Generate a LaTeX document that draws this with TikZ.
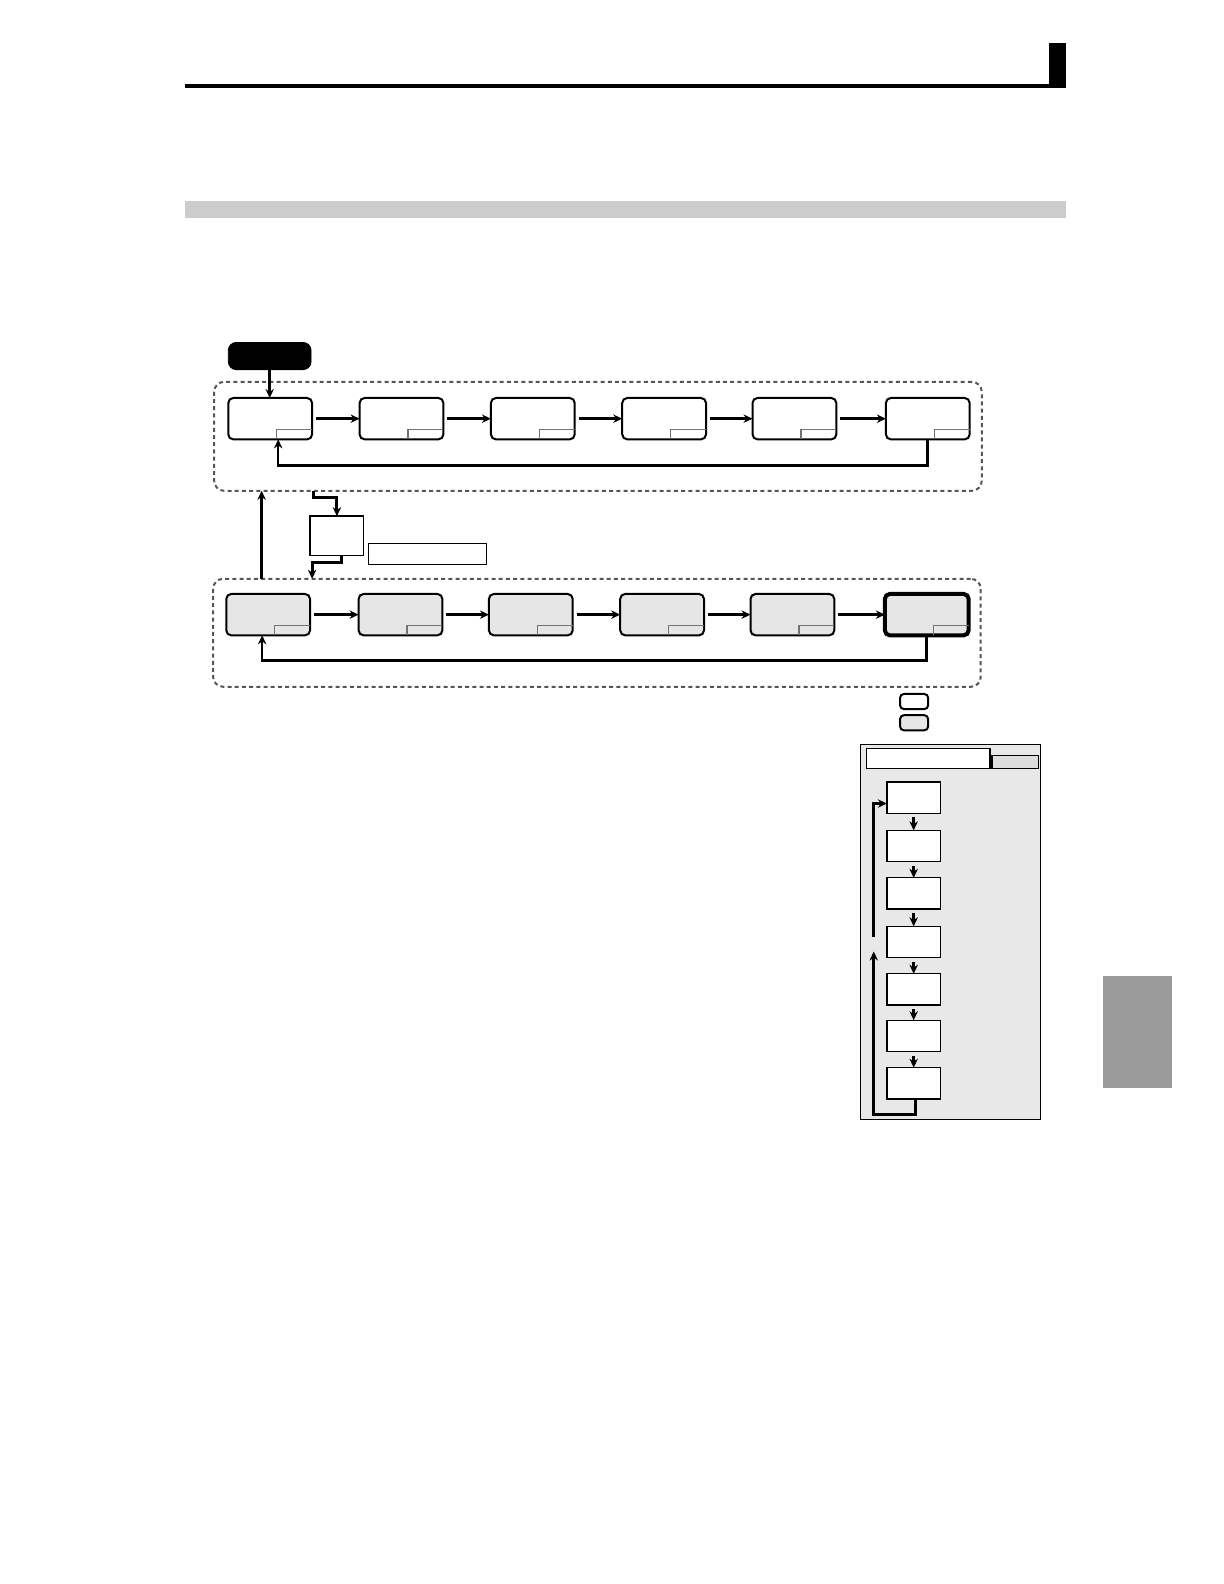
\documentclass[tikz,border=0pt]{standalone}
\usetikzlibrary{arrows.meta}
\definecolor{boxgray}{HTML}{E6E6E6}
\definecolor{dashgray}{HTML}{555555}
\definecolor{bargray}{HTML}{CCCCCC}
\definecolor{tabgray}{HTML}{9B9B9B}
\definecolor{panelgray}{HTML}{E8E8E8}
\definecolor{smallgray}{HTML}{DDDDDD}
\definecolor{linkblue}{HTML}{1A1A99}
\begin{document}
\begin{tikzpicture}[x=0.50505pt,y=-0.50505pt,
  arr/.style={line width=1.3pt,-{Stealth[length=4.5pt,width=4.2pt]}},
  tbox/.style={draw,line width=1pt,rounded corners=2.5pt,fill=white,minimum width=41.9pt,minimum height=20.7pt,inner sep=0pt,outer sep=0pt,anchor=north west},
  gbox/.style={tbox,fill=boxgray},
  dashbox/.style={draw=dashgray,dash pattern=on 2pt off 1.6pt,line width=1pt,rounded corners=5pt,minimum width=383.8pt,inner sep=0pt,outer sep=0pt,anchor=north west},
  cbox/.style={draw,line width=0.7pt,fill=white,minimum width=26.8pt,minimum height=15.7pt,inner sep=0pt,outer sep=0pt,anchor=north west},
  plain/.style={draw,line width=0.7pt,inner sep=0pt,outer sep=0pt,anchor=north west},
  cornermark/.style={line width=0.6pt,draw=black!55}
]
\useasboundingbox (0pt,0pt) rectangle (612pt,-792pt);
% header
\fill (183,83) rectangle (1055,87);
\fill (1038,43) rectangle (1055,87);
\fill[bargray] (183,199) rectangle (1055,216);
\fill[tabgray] (1092,966) rectangle (1160,1077);
\draw[linkblue,line width=0.6pt] (127,1575) -- (267,1575);

% dashed groups
\node[dashbox,minimum height=54.5pt] (dt) at (212,378) {};
\node[dashbox,minimum height=54pt] (db) at (211,573) {};

% start
\node[draw,fill=black,rounded corners=4pt,minimum width=41.4pt,minimum height=13.6pt,inner sep=0pt,outer sep=0pt,anchor=north west] (st) at (226,339) {};

% top row
\foreach \i/\x in {1/226,2/356,3/486,4/616,5/745,6/877}{
  \node[tbox] (t\i) at (\x,394) {};
  \draw[cornermark] ([xshift=-17.7pt]t\i.south east) |- ([yshift=5pt]t\i.south east);
}
% bottom row
\foreach \i/\x in {1/224,2/355,3/484,4/614,5/743}{
  \node[gbox] (b\i) at (\x,588) {};
  \draw[cornermark] ([xshift=-17.7pt]b\i.south east) |- ([yshift=5pt]b\i.south east);
}
\node[gbox,line width=2pt] (b6) at (876,588) {};
\draw[cornermark] ([xshift=-17.7pt]b6.south east) |- ([yshift=5pt]b6.south east);

\draw[arr] (st.south) -- (st.south |- t1.north);
\foreach \a/\b in {1/2,2/3,3/4,4/5,5/6}{
  \draw[arr,shorten <=2pt] (t\a.east) -- (t\b.west);
  \draw[arr,shorten <=2pt] (b\a.east) -- (b\b.west);
}
% feedback loops
\draw[arr] (t6.south) -- ++(0,26) -| ([xshift=4pt]t1.south);
\draw[arr] (b6.south) -- ++(0,25) -| ([xshift=-3pt]b1.south);

% between groups
\coordinate (ux) at (259,0);
\draw[arr] (db.north -| ux) -- (dt.south -| ux);
\node[plain,fill=white,minimum width=26.8pt,minimum height=19.7pt] (sm) at (307,511) {};
\node[plain,fill=white,minimum width=59pt,minimum height=10.6pt] (wide) at (365,538) {};
\coordinate (e1) at (310,0);
\draw[arr,line width=1.5pt] (dt.south -| e1) -- ++(0,7) -| (sm.north);
\coordinate (e2) at (309,0);
\draw[arr,line width=1.5pt] ([xshift=2.5pt]sm.south) -- ++(0,7) -| (db.north -| e2);

% key
\node[draw,line width=1pt,rounded corners=2pt,fill=white,minimum width=14.1pt,minimum height=7.6pt,inner sep=0pt,anchor=north west] (k1) at (890,686) {};
\node[draw,line width=1pt,rounded corners=2pt,fill=boxgray,minimum width=14.1pt,minimum height=7.6pt,inner sep=0pt,anchor=north west] (k2) at (890,707) {};

% panel
\node[plain,fill=panelgray,minimum width=89.9pt,minimum height=187.4pt] (pn) at (852,737) {};
\node[plain,fill=white,minimum width=61.6pt,minimum height=10.1pt] (pt) at (858,741) {};
\node[plain,fill=smallgray,minimum width=23.2pt,minimum height=6.6pt] (ps) at (982,748) {};
\foreach \i/\y in {1/774,2/822,3/869,4/917,5/964,6/1010,7/1057}{
  \node[cbox] (c\i) at (878,\y) {};
}
\foreach \a/\b in {1/2,2/3,3/4,4/5,5/6,6/7}{
  \draw[arr,line width=1.5pt,shorten <=2pt] (c\a.south) -- (c\b.north);
}
\coordinate (lx) at (865,942);
\coordinate (lu) at (865,928);
\draw[arr,line width=1.5pt] ([xshift=1pt]c7.south) -- ++(0,15) -| (lx);
\draw[arr,line width=1.5pt] (lu) |- ([yshift=-3pt]c1.west);
\end{tikzpicture}
\end{document}
